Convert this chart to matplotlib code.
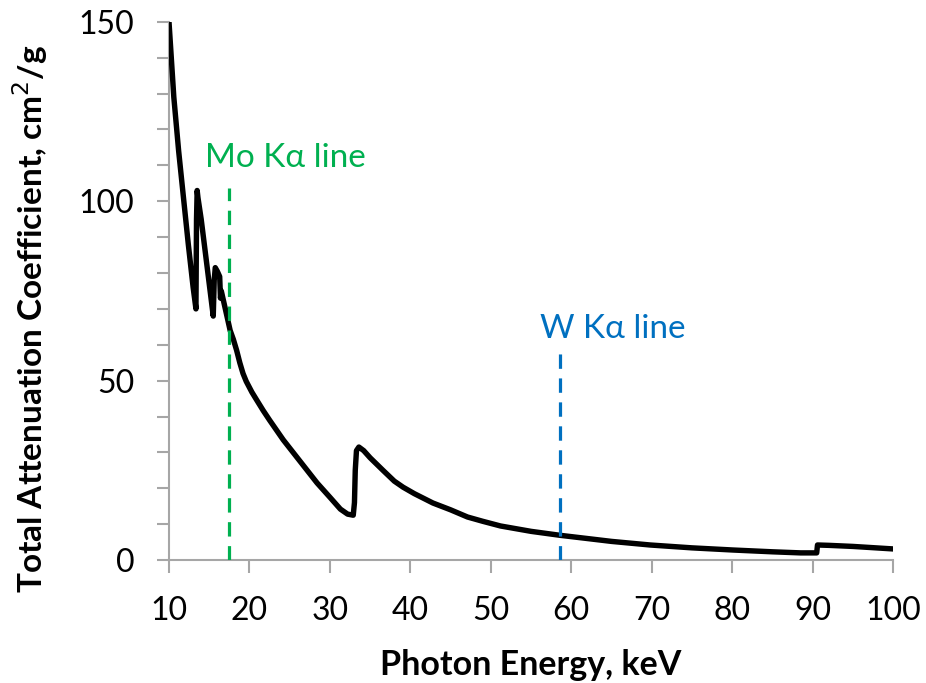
import numpy as np
import matplotlib.pyplot as plt

plt.rcParams['font.family'] = ['Lato', 'DejaVu Sans']

# photon energy (keV) and total attenuation coefficient (cm2/g)
energy = [10, 10.6, 11.2, 11.8, 12.4, 13.0, 13.35, 13.42, 13.5, 13.6, 14.0,
          14.5, 15.0, 15.5, 15.62, 15.75, 16.0, 16.3, 16.4, 16.5, 17.0, 17.6,
          18.0, 18.4, 18.8, 19.2, 19.6, 20.3, 20.9, 21.7, 22.5, 24.2, 26.3,
          28.4, 30.0, 31.3, 32.2, 32.9, 33.05, 33.15, 33.3, 33.6, 34.2, 35.0,
          36.6, 38.0, 39.1, 40.5, 42.8, 45.0, 47.1, 49.0, 51.2, 55.0, 58.6,
          62.0, 65.0, 69.8, 75.0, 80.1, 85.0, 88.5, 90.5, 90.6, 92.0, 95.0,
          100.0]
mu = [150, 129, 114, 101, 88, 76, 70, 95, 103, 101, 95,
      86, 77, 68, 78, 81.5, 80.5, 79, 73, 75, 70, 64,
      61.5, 58.5, 55, 52, 49.8, 46.8, 44.6, 41.7, 39, 33.5, 27.5,
      21.5, 17.5, 14.2, 12.8, 12.5, 16, 25, 30.5, 31.5, 30.5, 28.5,
      25, 22, 20.3, 18.5, 15.9, 14, 12, 10.8, 9.5, 8, 6.9,
      6.0, 5.2, 4.2, 3.4, 2.8, 2.3, 2.0, 2.0, 4.2, 4.1, 3.8,
      3.1]

# characteristic lines
mo_x, mo_top = 17.5, 103.7
w_x, w_top = 58.6, 58.0
mo_label = 'Mo Kα line'
w_label = 'W Kα line'

grey = '#a6a6a6'
green = '#00b050'
blue = '#0070c0'

fig = plt.figure(figsize=(9.26, 6.83), dpi=100)
ax = fig.add_axes([0.1825, 0.180, 0.782, 0.788])

ax.plot(energy, mu, color='black', linewidth=3.9, solid_joinstyle='round',
        solid_capstyle='round')

ax.plot([mo_x, mo_x], [0, mo_top], color=green, linewidth=2.3,
        linestyle=(0, (4.5, 3)))
ax.plot([w_x, w_x], [0, w_top], color=blue, linewidth=2.3,
        linestyle=(0, (4.5, 3)))
ax.text(14.5, 109.6, mo_label, color=green, fontsize=24, ha='left', va='baseline')
ax.text(56.1, 61.9, w_label, color=blue, fontsize=24, ha='left', va='baseline')

ax.set_xlim(10, 100)
ax.set_ylim(0, 150)
ax.set_xticks(np.arange(10, 101, 10))
ax.set_yticks([0, 50, 100, 150])
ax.set_yticks(np.arange(0, 151, 10), minor=True)

for s in ['top', 'right']:
    ax.spines[s].set_visible(False)
for s in ['left', 'bottom']:
    ax.spines[s].set_color(grey)
    ax.spines[s].set_linewidth(1.5)
    ax.spines[s].set_zorder(0)

ax.tick_params(axis='both', which='both', direction='out', color=grey,
               width=1.5, length=9, labelsize=23, labelcolor='black')
ax.tick_params(axis='y', pad=16)
ax.tick_params(axis='x', pad=17)

ax.set_xlabel('Photon Energy, keV', fontsize=24.5, fontweight='bold')
ax.set_ylabel('Total Attenuation Coefficient, cm$^{2}$/g', fontsize=24,
              fontweight='bold')
ax.xaxis.set_label_coords(0.50, -0.165)
ax.yaxis.set_label_coords(-0.165, 0.449)

fig.savefig('out.png', dpi=100)
